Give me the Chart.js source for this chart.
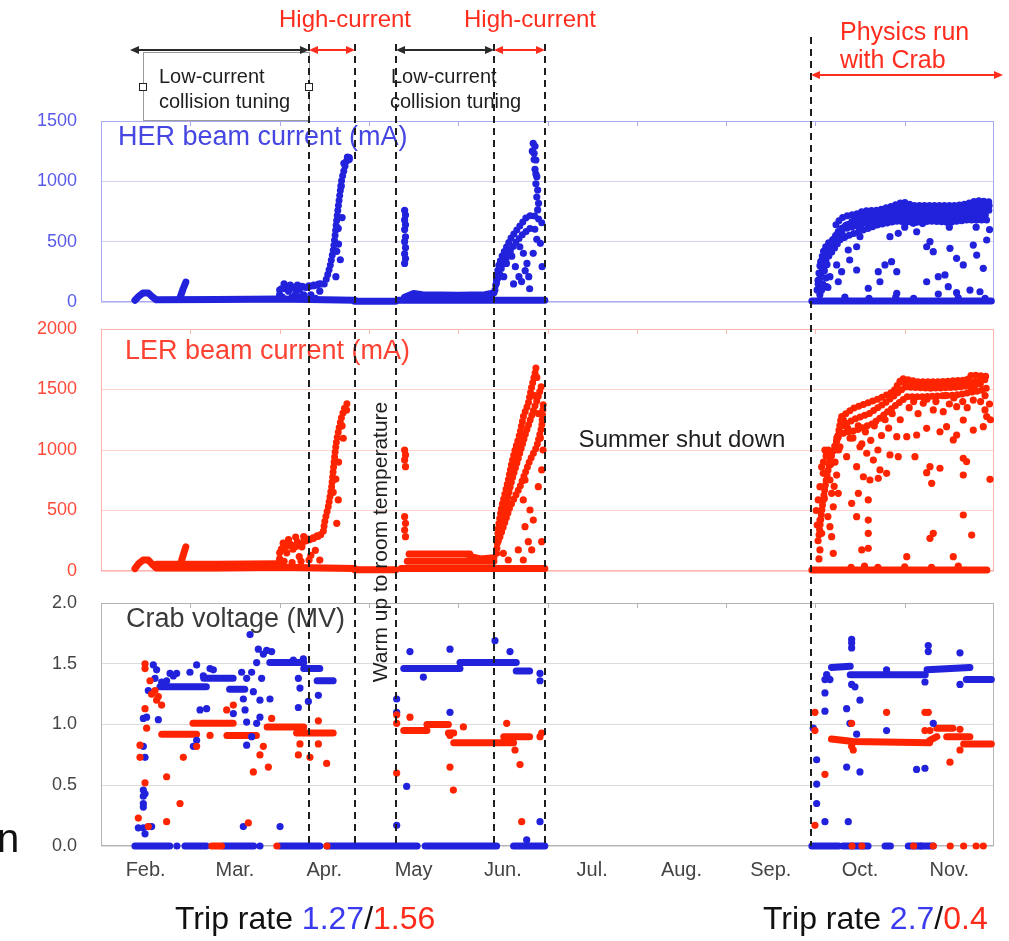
<!DOCTYPE html>
<html>
<head>
<meta charset="utf-8">
<script src="https://cdn.jsdelivr.net/npm/chart.js@4"></script>
<style>
  html, body { margin: 0; padding: 0; background: #fff; }
  #page { position: relative; width: 1009px; height: 941px; overflow: hidden; }
  canvas { position: absolute; left: 0; }
  #her { top: 0; }
  #ler { top: 280px; }
  #crab { top: 0; z-index: 2; }
</style>
</head>
<body>
<div id="page">
  <canvas id="her" width="1009" height="340"></canvas>
  <canvas id="ler" width="1009" height="330"></canvas>
  <canvas id="crab" width="1009" height="941"></canvas>
</div>
<script>
// x is in months counted from 1 Feb (0 = Feb 1, 10 = Dec 1)
const months = ['Feb.', 'Mar.', 'Apr.', 'May', 'Jun.', 'Jul.', 'Aug.', 'Sep.', 'Oct.', 'Nov.'];
const monthCenters = [0.5, 1.5, 2.5, 3.5, 4.5, 5.5, 6.5, 7.5, 8.5, 9.5];
const monthEdges = [1, 2, 3, 4, 5, 6, 7, 8, 9];

// run phases
const phaseEdges = [2.33, 2.84, 3.30, 4.40, 4.97, 7.95];
const lowSpans = [[0.325, 2.33], [3.30, 4.40]];
const highSpans = [[2.33, 2.84], [4.40, 4.97]];
const physicsSpan = [7.95, 10.1];
const lowBox = [0.47, 2.33];
const tripRates = [['1.27', '1.56'], ['2.7', '0.4']];

// HER beam current (mA): flat stretches, dense streaks and isolated samples
const herFloor = [
  [[0.38, 15], [0.42, 45], [0.47, 75], [0.53, 75], [0.58, 40], [0.62, 18], [1.30, 20], [2.00, 24], [2.84, 15]],
  [[0.88, 25], [0.92, 110], [0.95, 165]],
  [[2.84, 6], [3.30, 6]],
  [[3.33, 15], [4.97, 15]],
  [[3.40, 40], [3.50, 70], [3.60, 60], [4.00, 55], [4.30, 60], [4.40, 75]],
  [[7.96, 8], [9.97, 8]]
];
const herStreaks = [
  [[2.00, 100], [2.10, 120], [2.20, 110], [2.30, 130], [2.45, 150]],
  [[2.50, 150], [2.527, 196], [2.564, 293], [2.601, 431], [2.62, 541], [2.639, 679], [2.657, 790], [2.676, 900], [2.695, 1011], [2.721, 1094], [2.751, 1176], [2.788, 1204]],
  [[4.412, 99], [4.449, 293], [4.487, 375], [4.524, 431], [4.561, 486], [4.599, 541], [4.655, 597], [4.711, 652], [4.767, 707], [4.841, 721], [4.916, 679], [4.95, 640]],
  [[4.43, 160], [4.47, 260], [4.52, 330], [4.58, 420], [4.65, 500], [4.72, 560], [4.80, 610], [4.88, 600]],
  [[8.23, 640], [8.28, 690], [8.33, 710], [8.46, 730], [8.54, 755], [8.69, 760], [8.84, 790], [8.98, 830], [9.10, 800], [9.21, 800], [9.40, 800], [9.58, 800], [9.70, 815], [9.81, 840], [9.96, 830]],
  [[8.10, 380], [8.16, 470], [8.24, 560], [8.32, 620], [8.45, 690], [8.60, 720], [8.80, 760], [9.00, 785], [9.20, 770], [9.40, 775], [9.60, 770], [9.80, 795], [9.96, 800]],
  [[8.05, 300], [8.09, 420], [8.13, 480], [8.20, 520], [8.27, 600], [8.35, 640], [8.46, 660], [8.60, 690], [8.75, 720], [8.90, 740], [9.05, 740], [9.20, 730], [9.40, 740], [9.60, 740], [9.80, 760], [9.96, 760]],
  [[8.30, 600], [8.45, 630], [8.60, 660], [8.80, 700], [9.00, 705], [9.20, 700], [9.40, 705], [9.60, 700], [9.80, 720], [9.95, 720]],
  [[8.03, 150], [8.07, 250], [8.12, 350], [8.19, 420], [8.28, 520], [8.40, 560], [8.55, 600], [8.70, 640], [8.90, 670], [9.10, 660], [9.30, 670], [9.50, 660], [9.70, 680], [9.95, 680]]
];
const herDots = [
  [2.00, 60], [2.02, 110], [2.05, 150], [2.08, 130], [2.10, 90], [2.12, 140], [2.15, 120], [2.18, 70], [2.20, 140], [2.22, 100], [2.25, 130], [2.27, 60], [2.03, 40], [2.14, 40], [2.24, 40],
  [2.30, 120], [2.34, 130], [2.38, 135], [2.42, 140], [2.46, 150], [2.35, 60], [2.45, 90], [2.40, 30],
  [2.63, 210], [2.657, 610], [2.66, 480], [2.68, 350], [2.70, 700], [2.64, 420], [2.72, 1150], [2.76, 1200], [2.78, 1180], [2.69, 960],
  [3.40, 760], [3.41, 720], [3.40, 680], [3.41, 640], [3.40, 600], [3.41, 540], [3.40, 500], [3.41, 450], [3.40, 400], [3.41, 360], [3.40, 320],
  [4.84, 1315], [4.86, 1290], [4.85, 1232], [4.87, 1177], [4.86, 1100], [4.88, 1039], [4.87, 980], [4.89, 928], [4.88, 870], [4.90, 818], [4.89, 763], [4.83, 1250], [4.85, 1180], [4.87, 1060],
  [4.69, 458], [4.73, 403], [4.84, 403], [4.77, 320], [4.64, 293], [4.68, 210], [4.71, 169], [4.79, 210], [4.92, 486], [4.94, 293], [4.51, 210], [4.54, 320], [4.60, 380], [4.75, 260], [4.88, 520], [4.62, 150], [4.80, 110],
  [8.02, 100], [8.03, 180], [8.04, 240], [8.06, 330], [8.05, 60], [8.08, 150], [8.10, 260], [8.12, 200], [8.13, 310], [8.15, 390], [8.14, 120], [8.17, 450], [8.11, 420],
  [8.384, 348], [8.462, 265], [8.592, 114], [8.704, 251], [8.779, 307], [8.853, 334], [8.911, 251], [8.723, 168], [8.911, 72], [9.246, 458], [9.32, 417], [9.283, 500], [9.507, 445], [9.581, 362], [9.656, 307],
  [9.768, 472], [9.806, 389], [9.918, 514], [9.88, 279], [9.731, 99], [9.843, 85], [9.451, 224], [9.376, 210], [9.246, 168], [9.488, 127], [9.581, 77], [9.376, 66], [9.096, 652], [9.134, 582],
  [8.835, 541], [8.928, 569], [8.611, 624], [8.499, 541], [8.462, 458], [8.368, 431], [8.238, 307], [8.294, 251], [8.256, 168], [8.163, 210], [8.126, 127], [8.07, 99],
  [8.33, 40], [8.60, 30], [8.90, 40], [9.10, 30], [9.60, 35], [9.90, 30],
  [8.30, 560], [8.50, 600], [9.00, 620], [9.20, 650], [9.50, 620], [9.80, 620], [9.95, 600]
];

// LER beam current (mA)
const lerFloor = [
  [[0.38, 20], [0.42, 60], [0.47, 90], [0.53, 90], [0.58, 50], [0.62, 25], [1.30, 25], [2.00, 30], [2.84, 20]],
  [[0.62, 55], [1.30, 55], [2.00, 60]],
  [[0.88, 30], [0.92, 130], [0.95, 200]],
  [[2.84, 10], [3.30, 10]],
  [[3.36, 20], [4.97, 20]],
  [[3.43, 80], [4.40, 80]],
  [[3.45, 140], [4.13, 140]],
  [[4.13, 120], [4.25, 100], [4.40, 110]],
  [[7.96, 8], [9.92, 8]]
];
const lerStreaks = [
  [[2.00, 150], [2.10, 220], [2.20, 200], [2.30, 260], [2.45, 290]],
  [[2.49, 330], [2.508, 421], [2.545, 531], [2.583, 697], [2.601, 835], [2.62, 973], [2.639, 1083], [2.669, 1193], [2.695, 1276], [2.732, 1358], [2.769, 1399]],
  [[4.431, 146], [4.449, 366], [4.487, 531], [4.524, 642], [4.561, 752], [4.599, 890], [4.636, 1000], [4.692, 1138], [4.729, 1275], [4.785, 1386], [4.823, 1523], [4.86, 1634], [4.879, 1716]],
  [[4.468, 284], [4.58, 531], [4.692, 697], [4.804, 917], [4.879, 1027], [4.935, 1193], [4.953, 1386]],
  [[4.45, 250], [4.52, 500], [4.60, 750], [4.68, 950], [4.76, 1150], [4.83, 1300], [4.90, 1450], [4.94, 1550]],
  [[8.294, 1276], [8.424, 1344], [8.574, 1386], [8.723, 1427], [8.872, 1482], [8.966, 1592], [9.134, 1565], [9.395, 1565], [9.693, 1578], [9.749, 1620], [9.955, 1606]],
  [[8.95, 1560], [9.30, 1540], [9.60, 1545], [9.90, 1580]],
  [[8.313, 1138], [8.462, 1165], [8.649, 1220], [8.835, 1331], [9.022, 1441], [9.208, 1441], [9.582, 1455], [9.88, 1496], [9.955, 1530]],
  [[8.30, 1200], [8.45, 1260], [8.60, 1300], [8.80, 1400], [9.00, 1520], [9.30, 1510], [9.60, 1520], [9.90, 1550]],
  [[8.22, 1000], [8.26, 1150], [8.29, 1276]],
  [[8.04, 300], [8.08, 550], [8.12, 750], [8.16, 900], [8.20, 1000], [8.25, 1100], [8.30, 1150]]
];
const lerDots = [
  [2.00, 100], [2.02, 180], [2.04, 230], [2.06, 200], [2.08, 150], [2.10, 260], [2.12, 220], [2.15, 180], [2.18, 280], [2.20, 240], [2.22, 120], [2.25, 200], [2.27, 284], [2.05, 80], [2.14, 70], [2.24, 80],
  [2.30, 250], [2.34, 260], [2.38, 270], [2.42, 290], [2.46, 300], [2.35, 130], [2.40, 170], [2.45, 90], [2.33, 90],
  [2.657, 587], [2.64, 394], [2.713, 1097], [2.60, 650], [2.63, 760], [2.66, 900], [2.70, 1200], [2.75, 1330],
  [3.40, 1000], [3.41, 959], [3.40, 918], [3.41, 862], [3.40, 449], [3.41, 394], [3.40, 339], [3.41, 284],
  [4.748, 752], [4.729, 587], [4.804, 504], [4.748, 366], [4.785, 242], [4.673, 174], [4.823, 174], [4.935, 242], [4.935, 835], [4.505, 146], [4.561, 91], [4.729, 91], [4.841, 421], [4.897, 697],
  [4.90, 1300], [4.92, 1100], [4.88, 1600], [4.95, 1000], [4.86, 1450],
  [8.032, 587], [8.051, 697], [8.088, 807], [8.126, 973], [8.144, 1000], [8.051, 421], [8.07, 311], [8.051, 174], [8.163, 752], [8.182, 642], [8.20, 531], [8.163, 366], [8.182, 284], [8.20, 146],
  [8.238, 793], [8.256, 642], [8.275, 1027], [8.313, 1248], [8.107, 1000], [8.12, 950], [8.01, 500], [8.02, 380], [8.03, 250], [8.04, 100], [8.07, 860], [8.09, 900], [8.10, 600], [8.14, 450],
  [8.17, 880], [8.21, 700], [8.22, 900], [8.24, 1100], [8.26, 1000],
  [8.35, 945], [8.388, 1097], [8.499, 1027], [8.575, 973], [8.649, 917], [8.462, 862], [8.723, 835], [8.798, 807], [8.537, 779], [8.611, 752], [8.704, 766], [8.835, 959], [8.928, 945], [9.115, 945],
  [9.283, 862], [9.246, 813], [9.395, 849], [9.302, 725], [9.656, 931], [9.693, 904], [9.656, 793], [9.955, 758], [8.911, 1110], [9.023, 1110], [9.134, 1124], [9.246, 1179], [9.395, 1151], [9.469, 1193],
  [9.544, 1083], [9.582, 1124], [9.656, 1248], [9.768, 1165], [9.88, 1193], [9.918, 1276], [9.899, 1331], [9.32, 1331], [9.432, 1317], [9.208, 1386], [9.582, 1358], [9.768, 1413],
  [8.406, 559], [8.481, 642], [8.592, 587], [8.462, 449], [8.592, 421], [8.592, 311], [8.519, 174], [8.592, 188], [9.023, 118], [9.283, 270], [9.32, 311], [9.544, 118], [9.656, 463], [9.75, 297],
  [8.36, 1180], [8.42, 1100], [8.48, 1200], [8.52, 1050], [8.56, 1150], [8.62, 1080], [8.66, 1200], [8.70, 1000], [8.74, 1120], [8.78, 1250], [8.82, 1180], [8.86, 1300], [8.95, 1250], [9.05, 1350],
  [9.10, 1400], [9.15, 1300], [9.25, 1420], [9.35, 1400], [9.45, 1450], [9.50, 1380], [9.55, 1430], [9.65, 1400], [9.70, 1350], [9.75, 1500], [9.85, 1400], [9.90, 1450], [9.95, 1380], [9.96, 1250],
  [8.40, 30], [8.55, 40], [8.70, 30], [9.00, 35], [9.30, 30], [9.60, 40]
];

// Crab voltage (MV), blue = HER cavity, red = LER cavity
const crabBlueRuns = [
  [[0.38, 0], [0.77, 0]], [[0.94, 0], [1.18, 0]], [[1.37, 0], [1.71, 0]], [[2.00, 0], [2.45, 0]],
  [[2.53, 0], [3.54, 0]], [[3.63, 0], [4.43, 0]], [[4.62, 0], [4.97, 0]],
  [[0.66, 1.31], [1.18, 1.31]], [[1.15, 1.38], [1.48, 1.38]], [[1.44, 1.29], [1.61, 1.29]],
  [[1.89, 1.51], [2.27, 1.51]], [[2.27, 1.46], [2.45, 1.46]], [[2.42, 1.36], [2.60, 1.36]],
  [[3.39, 1.46], [4.02, 1.46]], [[4.02, 1.51], [4.65, 1.51]], [[4.65, 1.44], [4.80, 1.44]],
  [[7.96, 0], [8.26, 0]], [[8.31, 0], [8.59, 0]], [[8.78, 0], [8.84, 0]], [[9.04, 0], [9.32, 0]],
  [[8.18, 1.47], [8.39, 1.48]], [[8.39, 1.41], [9.23, 1.41]], [[9.25, 1.45], [9.73, 1.47]], [[9.69, 1.37], [9.97, 1.37]]
];
const crabRedRuns = [
  [[1.24, 0], [1.35, 0]],
  [[0.68, 0.92], [1.07, 0.92]], [[1.03, 1.01], [1.48, 1.01]], [[1.41, 0.91], [1.74, 0.91]],
  [[1.86, 0.98], [2.27, 0.98]], [[2.19, 0.93], [2.60, 0.93]],
  [[3.39, 0.95], [3.65, 0.95]], [[3.65, 1.00], [3.89, 1.00]], [[3.89, 0.93], [3.95, 0.93]],
  [[3.95, 0.85], [4.62, 0.85]], [[4.51, 0.90], [4.80, 0.90]],
  [[8.18, 0.88], [8.42, 0.86], [9.28, 0.85]], [[9.28, 0.87], [9.36, 0.90]], [[9.36, 0.97], [9.54, 0.97]],
  [[9.47, 0.90], [9.73, 0.90]], [[9.66, 0.84], [9.97, 0.84]]
];
const crabBlueDots = [
  [0.474, 0.46], [0.474, 0.41], [0.474, 0.35], [0.474, 0.32], [0.493, 0.43], [0.474, 0.15], [0.493, 0.10], [0.474, 0.82], [0.493, 0.73], [0.474, 1.05], [0.511, 1.06], [0.53, 0.16], [0.567, 0.16], [0.418, 0.15],
  [1.669, 1.74], [4.412, 1.69], [3.46, 1.60], [3.908, 1.62], [4.58, 1.60], [3.61, 1.39], [3.311, 1.21], [3.908, 1.10], [3.423, 0.49], [3.311, 0.17], [4.916, 0.20], [4.767, 0.05], [2.005, 0.16], [1.594, 0.16],
  [2.21, 1.14], [2.322, 1.19], [2.434, 1.24], [2.228, 1.30], [2.21, 1.38], [1.892, 1.21], [1.78, 1.20], [1.706, 1.27], [1.594, 1.21], [1.613, 1.12], [1.631, 1.02], [1.687, 0.90], [1.631, 0.83], [1.743, 1.01], [1.78, 1.06], [1.482, 1.09],
  [1.071, 1.49], [1.109, 1.12], [1.183, 1.13], [1.071, 0.87], [1.034, 0.82], [0.586, 1.49], [0.623, 1.45], [0.53, 1.28], [0.642, 1.04], [0.605, 1.38], [0.773, 1.42], [0.847, 1.42], [1.221, 1.46], [1.258, 1.45],
  [2.154, 1.53], [2.266, 1.54], [1.818, 1.58], [1.855, 1.61], [1.762, 1.62], [1.911, 1.60], [1.743, 1.51], [1.687, 1.43], [1.799, 1.38], [1.631, 1.38], [1.575, 1.43],
  [0.679, 1.35], [0.735, 1.36], [0.81, 1.40], [1.146, 1.40], [0.996, 1.43], [3.311, 1.10], [4.916, 1.42], [4.916, 1.36], [0.85, 0], [1.78, 0],
  [7.976, 0.97], [8.014, 0.71], [8.014, 0.51], [8.014, 0.35], [8.107, 0.20], [8.107, 1.11], [8.107, 1.26], [8.107, 1.37], [8.126, 1.41], [8.144, 1.38], [8.163, 1.37],
  [8.406, 1.70], [8.406, 1.67], [8.406, 1.63], [9.264, 1.65], [9.264, 1.60], [9.619, 1.59], [8.406, 1.33], [8.443, 1.31], [8.499, 1.20], [8.35, 1.13], [8.387, 1.01], [8.462, 0.92],
  [8.35, 0.65], [8.499, 0.61], [8.797, 0.95], [9.133, 0.63], [9.227, 0.64], [9.32, 1.01], [8.368, 0.20], [9.619, 1.33], [9.227, 1.35], [8.797, 1.45], [9.18, 0]
];
const crabRedDots = [
  [0.493, 1.50], [0.493, 1.46], [0.549, 1.36], [0.605, 1.28], [0.642, 1.23], [0.679, 1.16], [0.493, 1.13], [0.511, 0.97], [0.437, 0.83], [0.437, 0.73], [0.493, 0.52], [0.418, 0.23], [0.53, 0.16],
  [0.735, 0.57], [0.735, 0.20], [0.885, 0.35], [0.922, 0.73], [1.071, 0.82], [1.221, 0.91], [1.407, 1.12], [1.482, 1.16], [1.706, 0.61], [1.78, 0.75], [1.874, 0.65], [1.911, 1.05], [1.818, 0.82],
  [2.21, 0.75], [2.228, 0.84], [2.34, 0.73], [2.434, 1.03], [2.434, 0.84], [2.527, 0.68], [1.65, 0.19], [3.311, 1.08], [3.311, 0.60], [3.311, 1.01], [3.46, 1.06], [3.908, 0.65], [3.946, 0.46],
  [3.908, 0.91], [4.058, 0.98], [4.543, 1.01], [4.692, 0.67], [4.711, 0.20], [4.636, 0.79], [4.916, 0.90], [4.935, 0.93], [0.623, 1.20], [0.567, 1.25], [1.97, 0], [2.53, 0],
  [7.995, 1.10], [7.995, 0.95], [8.107, 0.59], [7.995, 0.17], [8.406, 1.01], [8.797, 1.10], [9.227, 1.10], [9.264, 1.10], [9.227, 0.95], [9.283, 0.95], [9.619, 0.96], [9.507, 0.69], [9.619, 0.79],
  [8.406, 0.82], [8.424, 0.79], [9.10, 0], [9.32, 0], [9.51, 0], [9.66, 0], [9.80, 0], [9.88, 0], [8.41, 0], [8.52, 0]
];

const BLUE = '#2222dc';
const RED = '#ff2400';
const FONT = "'Liberation Sans', Arial, sans-serif";

Chart.defaults.font.family = FONT;
Chart.defaults.animation = false;

const toXY = arr => arr.map(([x, y]) => ({ x, y }));

// solid = back-to-back samples, dotted = a streak of separate samples
function runSets(runs, color, dotted) {
  return runs.map(r => ({
    data: toXY(r),
    showLine: true,
    pointRadius: 0,
    borderColor: color,
    borderWidth: 7,
    borderCapStyle: 'round',
    borderJoinStyle: 'round',
    borderDash: dotted ? [0, 5] : [],
    clip: false
  }));
}

function dotSet(dots, color) {
  return {
    data: toXY(dots),
    pointRadius: 3.6,
    pointBackgroundColor: color,
    pointBorderWidth: 0,
    clip: false
  };
}

// frame, inner month ticks and the panel title
function panelDecor(title, titleColor, dx, dy, frameColor) {
  return {
    id: 'panelDecor',
    beforeDatasetsDraw(chart) {
      const { ctx, chartArea: a, scales: { x } } = chart;
      ctx.save();
      ctx.strokeStyle = frameColor;
      ctx.lineWidth = 1;
      ctx.strokeRect(a.left + 0.5, a.top + 0.5, a.right - a.left - 1, a.bottom - a.top - 1);
      ctx.beginPath();
      monthEdges.forEach(m => {
        const px = Math.round(x.getPixelForValue(m)) + 0.5;
        ctx.moveTo(px, a.top);
        ctx.lineTo(px, a.top + 5);
      });
      ctx.stroke();
      ctx.font = '27px ' + FONT;
      ctx.fillStyle = titleColor;
      ctx.textBaseline = 'middle';
      ctx.fillText(title, a.left + dx, a.top + dy);
      ctx.restore();
    }
  };
}

function yAxis(max, step, color, gridColor, fmt) {
  return {
    min: 0, max: max,
    afterFit: s => { s.width = 101; },
    border: { display: false },
    grid: { color: gridColor, drawTicks: false },
    ticks: { stepSize: step, color: color, padding: 24, font: { size: 18 }, callback: fmt || (v => v) }
  };
}

const hiddenX = { type: 'linear', min: 0, max: 10, display: false };

function panel(id, datasets, yOpts, padding, decor, xOpts) {
  return new Chart(document.getElementById(id), {
    type: 'scatter',
    data: { datasets: datasets.reverse() },
    options: {
      responsive: false,
      events: [],
      layout: { padding: padding },
      plugins: { legend: { display: false }, tooltip: { enabled: false } },
      scales: { x: xOpts || hiddenX, y: yOpts }
    },
    plugins: decor
  });
}

function arrow(ctx, x1, x2, y, color) {
  ctx.strokeStyle = color;
  ctx.fillStyle = color;
  ctx.lineWidth = 2;
  ctx.beginPath();
  ctx.moveTo(x1 + 3, y);
  ctx.lineTo(x2 - 3, y);
  ctx.stroke();
  [[x1, 1], [x2, -1]].forEach(([tip, dir]) => {
    ctx.beginPath();
    ctx.moveTo(tip, y);
    ctx.lineTo(tip + dir * 9, y - 4);
    ctx.lineTo(tip + dir * 9, y + 4);
    ctx.closePath();
    ctx.fill();
  });
}

function colorText(ctx, parts, x, y) {
  parts.forEach(([t, c]) => {
    ctx.fillStyle = c;
    ctx.fillText(t, x, y);
    x += ctx.measureText(t).width;
  });
}

// phase markers and notes across the whole figure
const annotate = {
  id: 'annotate',
  afterDraw(chart) {
    const { ctx, chartArea, scales: { x } } = chart;
    const px = v => Math.round(x.getPixelForValue(v));
    ctx.save();

    const boxL = px(lowBox[0]), boxR = px(lowBox[1]);
    ctx.strokeStyle = '#9a9a9a';
    ctx.lineWidth = 1;
    ctx.strokeRect(boxL + 0.5, 52.5, boxR - boxL, 68);

    ctx.strokeStyle = '#1e1e1e';
    ctx.lineWidth = 2;
    ctx.setLineDash([7, 5]);
    phaseEdges.forEach((m, i) => {
      const xx = px(m);
      ctx.beginPath();
      ctx.moveTo(xx, i === phaseEdges.length - 1 ? 37 : 44);
      ctx.lineTo(xx, chartArea.bottom);
      ctx.stroke();
    });
    ctx.setLineDash([]);

    ctx.lineWidth = 1;
    [boxL, boxR].forEach(h => {
      ctx.fillStyle = '#fff';
      ctx.fillRect(h - 4, 83, 8, 8);
      ctx.strokeStyle = '#222';
      ctx.strokeRect(h - 3.5, 83.5, 7, 7);
    });

    lowSpans.forEach(([a, b]) => arrow(ctx, px(a), px(b), 50, '#2a2a2a'));
    highSpans.forEach(([a, b]) => arrow(ctx, px(a), px(b), 50, '#ff2d1e'));
    arrow(ctx, px(physicsSpan[0]), px(physicsSpan[1]), 75, '#ff2d1e');

    ctx.textBaseline = 'alphabetic';
    ctx.textAlign = 'center';
    ctx.fillStyle = '#ff2d1e';
    ctx.font = '24px ' + FONT;
    highSpans.forEach(([a]) => ctx.fillText('High-current', px(a) + 36, 27));

    ctx.textAlign = 'left';
    ctx.font = '25px ' + FONT;
    ctx.fillText('Physics run', 840, 40);
    ctx.fillText('with Crab', 840, 68);

    ctx.fillStyle = '#1e1e1e';
    ctx.font = '20px ' + FONT;
    ctx.fillText('Low-current', 159, 83);
    ctx.fillText('collision tuning', 159, 108);
    ctx.fillText('Low-current', 391, 83);
    ctx.fillText('collision tuning', 390, 108);

    ctx.font = '24px ' + FONT;
    ctx.textAlign = 'center';
    ctx.textBaseline = 'middle';
    ctx.fillText('Summer shut down', 682, 440);

    ctx.save();
    ctx.translate(381, 542);
    ctx.rotate(-Math.PI / 2);
    ctx.font = '21px ' + FONT;
    ctx.fillText('Warm up to room temperature', 0, 0);
    ctx.restore();

    ctx.textAlign = 'left';
    ctx.textBaseline = 'alphabetic';
    ctx.font = '40px ' + FONT;
    ctx.fillStyle = '#111';
    ctx.fillText('n', -3, 852);

    ctx.font = '32px ' + FONT;
    [[175, tripRates[0]], [763, tripRates[1]]].forEach(([left, [her, ler]]) => {
      colorText(ctx, [['Trip rate ', '#111'], [her, '#3a3af0'], ['/', '#111'], [ler, '#ff2a1a']], left, 929);
    });

    ctx.restore();
  }
};

panel('her',
  [...runSets(herFloor, BLUE), ...runSets(herStreaks, BLUE, true), dotSet(herDots, BLUE)],
  yAxis(1500, 500, '#5a5aea', '#d2d2f5'),
  { top: 121, bottom: 38, right: 15, left: 0 },
  [panelDecor('HER beam current (mA)', '#4646e2', 17, 17, '#aaaaf0')]);

panel('ler',
  [...runSets(lerFloor, RED), ...runSets(lerStreaks, RED, true), dotSet(lerDots, RED)],
  yAxis(2000, 500, '#ff4a3a', '#ffd4d0'),
  { top: 49, bottom: 39, right: 15, left: 0 },
  [panelDecor('LER beam current (mA)', '#ff4232', 24, 23, '#ffb4ae')]);

panel('crab',
  [...runSets(crabBlueRuns, BLUE), ...runSets(crabRedRuns, RED), dotSet(crabBlueDots, BLUE), dotSet(crabRedDots, RED)],
  yAxis(2, 0.5, '#444', '#dcdcdc', v => v.toFixed(1)),
  { top: 603, bottom: 55, right: 15, left: 0 },
  [panelDecor('Crab voltage (MV)', '#3a3a3a', 25, 17, '#b4b4b4'), annotate],
  {
    type: 'linear', min: 0, max: 10,
    afterFit: s => { s.height = 40; },
    afterBuildTicks: s => { s.ticks = monthCenters.map(v => ({ value: v })); },
    border: { display: false },
    grid: { display: false, drawTicks: false },
    ticks: { autoSkip: false, maxRotation: 0, padding: 12, color: '#444', font: { size: 20 }, callback: (v, i) => months[i] }
  });
</script>
</body>
</html>
